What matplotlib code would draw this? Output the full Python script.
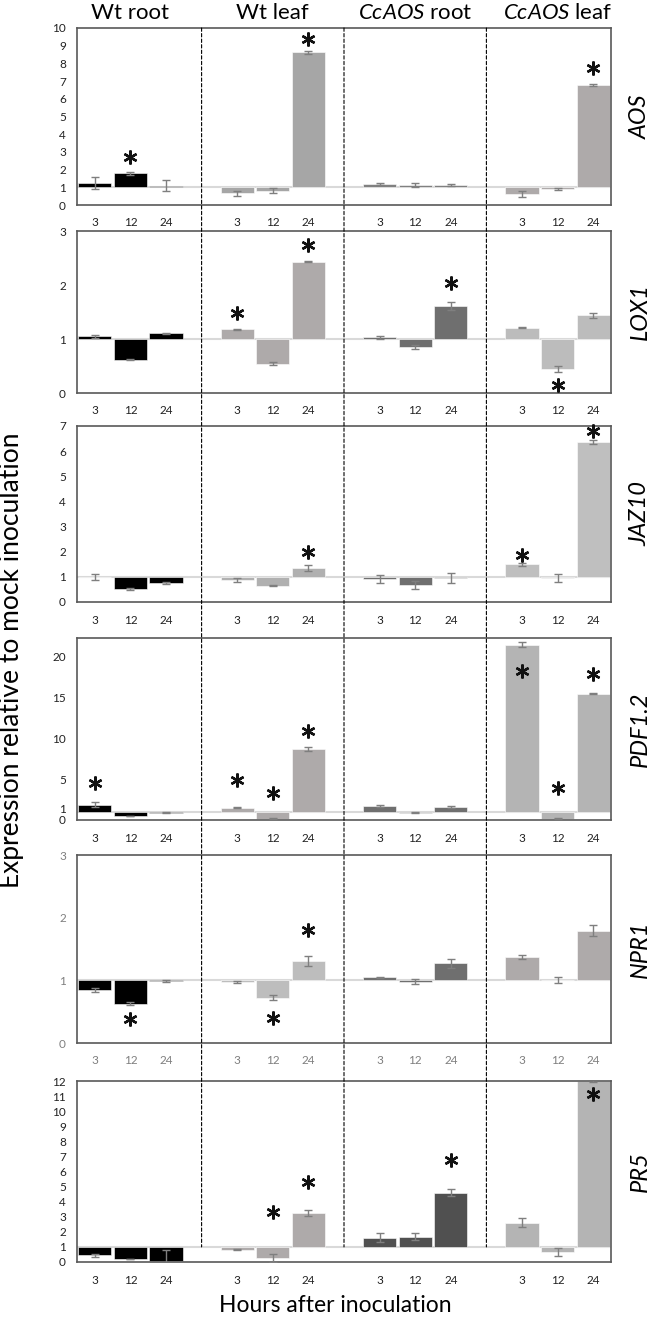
import matplotlib.pyplot as plt
import matplotlib.transforms as mtransforms
from matplotlib.patches import ConnectionPatch

plt.rcParams['font.family'] = ['Lato', 'DejaVu Sans']
plt.rcParams['mathtext.fontset'] = 'custom'
plt.rcParams['mathtext.rm'] = 'Lato'
plt.rcParams['mathtext.it'] = 'Lato:italic'

# groups and time points
groups = ['Wt root', 'Wt leaf', r'$\mathit{CcAOS}$ root', r'$\mathit{CcAOS}$ leaf']
hours = ['3', '12', '24']
genes = ['AOS', 'LOX1', 'JAZ10', 'PDF1.2', 'NPR1', 'PR5']

# expression relative to mock (12 values: group x hour)
aos_val = [1.25, 1.79, 1.09, 0.66, 0.81, 8.62, 1.19, 1.13, 1.13, 0.62, 0.92, 6.79]
aos_err = [0.33, 0.10, 0.30, 0.15, 0.13, 0.10, 0.05, 0.10, 0.07, 0.15, 0.05, 0.05]
aos_star = [None, 2.74, None, None, None, 9.4, None, None, None, None, None, 7.74]

lox1_val = [1.05, 0.62, 1.11, 1.18, 0.54, 2.43, 1.03, 0.85, 1.61, 1.21, 0.44, 1.44]
lox1_err = [0.03, 0.01, 0.01, 0.01, 0.03, 0.01, 0.03, 0.04, 0.08, 0.01, 0.06, 0.05]
lox1_star = [None, None, None, 1.48, None, 2.74, None, None, 2.03, None, 0.14, None]

jaz10_val = [1.0, 0.50, 0.75, 0.87, 0.64, 1.35, 0.92, 0.67, 0.94, 1.50, 0.96, 6.35]
jaz10_err = [0.13, 0.04, 0.05, 0.07, 0.02, 0.12, 0.15, 0.15, 0.20, 0.05, 0.15, 0.08]
jaz10_star = [None, None, None, None, None, 2.0, None, None, None, 1.86, None, 6.8]

pdf12_val = [1.84, 0.49, 0.90, 1.51, 0.16, 8.69, 1.71, 0.90, 1.55, 21.4, 0.16, 15.4]
pdf12_err = [0.30, 0.05, 0.05, 0.05, 0.05, 0.25, 0.10, 0.05, 0.10, 0.30, 0.05, 0.05]
pdf12_star = [4.49, None, None, 4.9, 3.27, 10.8, None, None, None, 18.2, 3.9, 17.8]

npr1_val = [0.84, 0.63, 0.99, 0.97, 0.72, 1.31, 1.05, 0.98, 1.27, 1.37, 1.01, 1.79]
npr1_err = [0.03, 0.02, 0.01, 0.02, 0.04, 0.08, 0.01, 0.04, 0.07, 0.03, 0.05, 0.09]
npr1_star = [None, 0.38, None, None, 0.40, 1.8, None, None, None, None, None, None]

pr5_val = [0.44, 0.20, 0.04, 0.82, 0.27, 3.25, 1.60, 1.68, 4.60, 2.61, 0.66, 12.0]
pr5_err = [0.10, 0.03, 0.75, 0.05, 0.25, 0.20, 0.30, 0.25, 0.25, 0.30, 0.25, 0.05]
pr5_star = [None, None, None, None, 3.3, 5.3, None, None, 6.74, None, None, 11.16]

values = [aos_val, lox1_val, jaz10_val, pdf12_val, npr1_val, pr5_val]
errors = [aos_err, lox1_err, jaz10_err, pdf12_err, npr1_err, pr5_err]
stars = [aos_star, lox1_star, jaz10_star, pdf12_star, npr1_star, pr5_star]

ylims = [10, 3, 7, 22.2, 3, 12]
yticks = [range(0, 11), range(0, 4), range(0, 8), [0, 1, 5, 10, 15, 20], range(0, 4), range(0, 13)]

# bar colours per panel, one per group
colors = [
    ['#000000', '#a6a6a6', '#808080', '#aeaaaa'],
    ['#000000', '#aeaaaa', '#6f6f6f', '#bcbcbc'],
    ['#000000', '#b0b0b0', '#6f6f6f', '#bfbfbf'],
    ['#000000', '#aeaaaa', '#6f6f6f', '#b4b4b4'],
    ['#000000', '#bdbdbd', '#6f6f6f', '#aeaaaa'],
    ['#000000', '#aeaaaa', '#505050', '#b4b4b4'],
]

W, H = 653, 1320
fig = plt.figure(figsize=(W / 100, H / 100), dpi=100)

# panel extents in pixels (top, bottom)
panel_px = [(28, 205), (231, 393), (426, 602), (638, 820), (855, 1043), (1081, 1262)]
left_px, right_px = 77, 611

xpos = [g * 4 + h for g in range(4) for h in range(3)]

axes = []
for i, gene in enumerate(genes):
    top, bot = panel_px[i]
    ax = fig.add_axes([left_px / W, 1 - bot / H, (right_px - left_px) / W, (bot - top) / H])
    axes.append(ax)
    vals = values[i]
    bar_colors = [colors[i][k // 3] for k in range(12)]
    heights = [v - 1 for v in vals]
    ax.bar(xpos, heights, bottom=1, width=0.93, color=bar_colors,
           edgecolor='white', linewidth=0.4, zorder=2)
    ax.errorbar(xpos, vals, yerr=errors[i], fmt='none', ecolor='#7f7f7f',
                elinewidth=1, capsize=3, capthick=1, zorder=3)
    ax.axhline(1, color='#d9d9d9', lw=1.5, zorder=1)
    for x, s in zip(xpos, stars[i]):
        if s is not None:
            ax.plot(x, s, marker=(6, 2, 0), markersize=10, mew=1.7,
                    color='#111111', zorder=4, clip_on=False)

    ax.set_xlim(-0.5, 14.5)
    ax.set_ylim(0, ylims[i])
    ax.set_yticks(list(yticks[i]))
    ax.set_xticks(xpos)
    ax.set_xticklabels(hours * 4)
    lab_col = '#7f7f7f' if gene == 'NPR1' else '#222222'
    ax.tick_params(length=0, labelsize=8.5, labelcolor=lab_col)
    ax.tick_params(axis='x', pad=9)
    ax.tick_params(axis='y', pad=8)
    for sp in ax.spines.values():
        sp.set_color('#595959')
        sp.set_linewidth(1.2)
    fig.text(640 / W, 1 - (top + bot) / 2 / H, gene, rotation=90, fontsize=17,
             fontstyle='italic', ha='center', va='center')

# PDF1.2: lift the "1" label a little so it clears the "0"
for lab in axes[3].get_yticklabels():
    if lab.get_text() == '1':
        lab.set_transform(lab.get_transform() +
                          mtransforms.ScaledTranslation(0, 3 / 100, fig.dpi_scale_trans))

# group titles on top
for g, name in enumerate(groups):
    xg = axes[0].transData.transform((g * 4 + 1, 0))[0]
    fig.text(xg / W, 1 - 13 / H, name, fontsize=16, ha='center', va='center')

# dashed separators running through all panels
for xs in [3, 7, 11]:
    con = ConnectionPatch(xyA=(xs, ylims[0]), coordsA='data', axesA=axes[0],
                          xyB=(xs, 1), coordsB='data', axesB=axes[-1],
                          color='black', lw=0.8, linestyle=(0, (3, 2)))
    fig.add_artist(con)

fig.text(12 / W, 1 - 660 / H, 'Expression relative to mock inoculation',
         rotation=90, fontsize=19, ha='center', va='center')
fig.text(335 / W, 1 - 1305 / H, 'Hours after inoculation', fontsize=16.5,
         ha='center', va='center')

fig.savefig('out.png', dpi=100)
